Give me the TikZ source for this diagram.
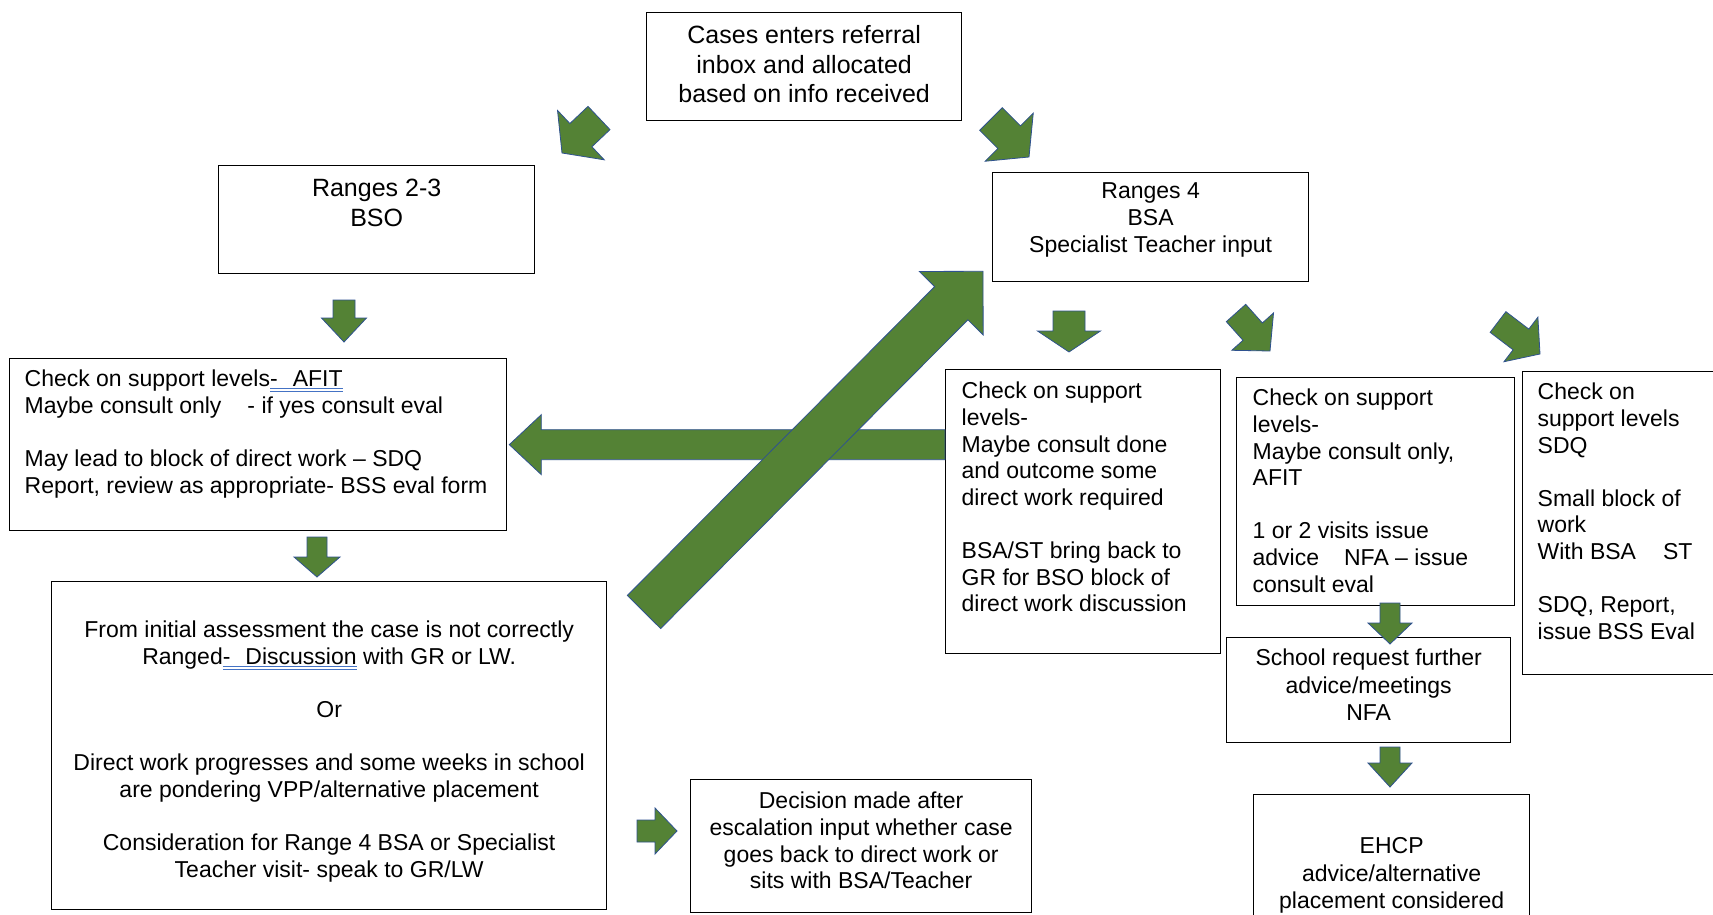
\documentclass[tikz,border=0pt]{standalone}
\usepackage{fontspec}
\setmainfont{Liberation Sans}
\usetikzlibrary{calc}
\definecolor{arrowgreen}{RGB}{84,130,53}
\definecolor{arrowedge}{RGB}{47,82,143}
\definecolor{markblue}{RGB}{68,114,196}

\newsavebox{\markbox}
\newcommand{\boxtext}[5]{\parbox[c][#2pt][t]{#1pt}{\vspace*{#3pt}\if#4c\centering\fi\begin{tabular}{@{}#4@{}}#5\end{tabular}\par}}
\newcommand{\markline}[1]{\sbox{\markbox}{#1}\rlap{\textcolor{markblue}{\rule[-2pt]{\wd\markbox}{0.9pt}}}\rlap{\textcolor{markblue}{\rule[-5pt]{\wd\markbox}{0.9pt}}}\usebox{\markbox}}
\newcommand{\blockarrow}[5]{%
  \coordinate (ba-base) at ($(#2)!#5pt!(#1)$);
  \filldraw[blockarr] ($(#1)!#3pt!90:(#2)$) -- ($(ba-base)!#3pt!90:(#2)$) -- ($(ba-base)!#4pt!90:(#2)$) -- (#2)
    -- ($(ba-base)!#4pt!-90:(#2)$) -- ($(ba-base)!#3pt!-90:(#2)$) -- ($(#1)!#3pt!-90:(#2)$) -- cycle;}

\begin{document}
\begin{tikzpicture}[x=1pt, y=-1pt,
    box/.style={draw=black, line width=1.3pt, anchor=north west, inner ysep=0pt, inner xsep=10pt},
    bigtext/.style={font=\fontsize{25}{29.5}\selectfont},
    midtext/.style={font=\fontsize{23}{26.6}\selectfont},
    widetext/.style={font=\fontsize{23}{27.5}\selectfont},
    blockarr/.style={fill=arrowgreen, draw=arrowedge, line width=0.8pt}]
  \useasboundingbox (0,0) rectangle (1713,915);
  \fill[white] (0,0) rectangle (1713,915);
  \clip (0,0) rectangle (1713,915);

  \node[box, bigtext] (inbox) at (646,12) {\boxtext{295}{108}{10.35}{c}{Cases enters referral\\inbox and allocated\\based on info received}};
  \node[box, bigtext] (lowrange) at (218,165) {\boxtext{296}{108}{10.35}{c}{Ranges 2-3\\BSO}};
  \node[box, midtext] (highrange) at (992,172) {\boxtext{296}{109}{7.7}{c}{Ranges 4\\BSA\\Specialist Teacher input}};
  \node[box, midtext, inner xsep=15pt] (bsocheck) at (9,358) {\boxtext{467}{172}{9.7}{l}{Check on support levels\markline{-\hspace{15pt}AFIT}\\Maybe consult only\hspace{26pt}- if yes consult eval\\ \\May lead to block of direct work -- SDQ\\Report, review as appropriate- BSS eval form}};
  \node[box, midtext] (reassess) at (51,581) {\boxtext{535}{328}{37.7}{c}{From initial assessment the case is not correctly\\Ranged\markline{-\hspace{15pt}Discussion} with GR or LW.\\ \\Or\\ \\Direct work progresses and some weeks in school\\are pondering VPP/alternative placement\\ \\Consideration for Range 4 BSA or Specialist\\Teacher visit- speak to GR/LW}};
  \node[box, midtext] (decision) at (690,779) {\boxtext{321}{133}{10.7}{c}{Decision made after\\escalation input whether case\\goes back to direct work or\\sits with BSA/Teacher}};
  \node[box, midtext, inner xsep=16pt] (bsacheck) at (945,369) {\boxtext{243}{284}{10.7}{l}{Check on support\\levels-\\Maybe consult done\\and outcome some\\direct work required\\ \\BSA/ST bring back to\\GR for BSO block of\\direct work discussion}};
  \node[box, midtext, inner xsep=16pt] (consult) at (1236,377) {\boxtext{246}{228}{9.7}{l}{Check on support\\levels-\\Maybe consult only,\\AFIT\\ \\1 or 2 visits issue\\advice\hspace{25pt}NFA -- issue\\consult eval}};
  \node[box, midtext, inner xsep=15pt] (smallblock) at (1522,371) {\boxtext{170}{303}{9.7}{l}{Check on\\support levels\\SDQ\\ \\Small block of\\work\\With BSA\hspace{27pt}ST\\ \\SDQ, Report,\\issue BSS Eval}};
  \node[box, widetext] (request) at (1226,637) {\boxtext{264}{105}{9}{c}{School request further\\advice/meetings\\NFA}};
  \node[box, widetext] (ehcp) at (1253,794) {\boxtext{256}{160}{40}{c}{EHCP\\advice/alternative\\placement considered}};

  \coordinate (split-l-tail) at (599,118);
  \coordinate (split-l-tip) at (562,153);
  \coordinate (split-r-tail) at (991,119);
  \coordinate (split-r-tip) at (1029,157);
  \coordinate (low-tail) at (344,300);
  \coordinate (low-tip) at (344,342);
  \coordinate (bso-tail) at (317,537);
  \coordinate (bso-tip) at (317,577);
  \coordinate (esc-tail) at (637,831);
  \coordinate (esc-tip) at (677,831);
  \coordinate (high-a-tail) at (1069,311);
  \coordinate (high-a-tip) at (1069,352);
  \coordinate (high-b-tail) at (1236,313);
  \coordinate (high-b-tip) at (1270,351);
  \coordinate (high-c-tail) at (1498,322);
  \coordinate (high-c-tip) at (1540,354);
  \coordinate (nfa-tail) at (1390,603);
  \coordinate (nfa-tip) at (1390,644);
  \coordinate (ehcp-tail) at (1390,747);
  \coordinate (ehcp-tip) at (1390,787);
  \coordinate (back-tail) at (bsacheck.west |- bsocheck.east);
  \coordinate (back-tip) at ($(bsocheck.east)+(2,0)$);
  \coordinate (up-tail) at (644,612);
  \coordinate (up-tip) at ($(highrange.south west)+(-9,-11)$);

  \blockarrow{split-l-tail}{split-l-tip}{16}{34}{26}
  \blockarrow{split-r-tail}{split-r-tip}{16}{34}{28}
  \blockarrow{low-tail}{low-tip}{11}{22.5}{24}
  \blockarrow{bso-tail}{bso-tip}{10}{23}{20}
  \blockarrow{esc-tail}{esc-tip}{11}{23}{22}
  \blockarrow{high-a-tail}{high-a-tip}{16}{31.5}{21}
  \blockarrow{high-b-tail}{high-b-tip}{13}{28}{26}
  \blockarrow{high-c-tail}{high-c-tip}{13}{28}{24}
  \blockarrow{nfa-tail}{nfa-tip}{10}{22}{21}
  \blockarrow{ehcp-tail}{ehcp-tip}{10}{22}{24}
  \blockarrow{back-tail}{back-tip}{15}{30}{32}
  \blockarrow{up-tail}{up-tip}{23.5}{45}{45}
\end{tikzpicture}
\end{document}
